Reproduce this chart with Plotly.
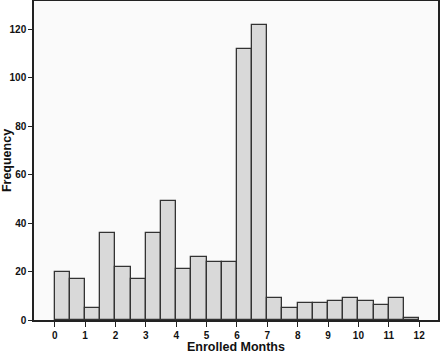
import plotly.graph_objects as go

bin_starts = [0, 0.5, 1, 1.5, 2, 2.5, 3, 3.5, 4, 4.5, 5, 5.5,
              6, 6.5, 7, 7.5, 8, 8.5, 9, 9.5, 10, 10.5, 11, 11.5]
counts = [20, 17, 5, 36, 22, 17, 36, 49, 21, 26, 24, 24,
          112, 122, 9, 5, 7, 7, 8, 9, 8, 6, 9, 1]
bin_width = 0.5
x_ticks = [0, 1, 2, 3, 4, 5, 6, 7, 8, 9, 10, 11, 12]
y_ticks = [0, 20, 40, 60, 80, 100, 120]

fig = go.Figure(go.Bar(
    x=[s + bin_width / 2 for s in bin_starts],
    y=counts,
    width=bin_width,
    marker=dict(color="#d9d9d9", line=dict(color="#333333", width=1.3)),
))

fig.update_layout(
    width=440, height=354,
    margin=dict(l=34, r=2, t=1, b=34),
    paper_bgcolor="white",
    plot_bgcolor="#fafafa",
    showlegend=False,
    bargap=0,
    font=dict(family="Liberation Sans, Arial, sans-serif", color="#111111"),
)
fig.update_xaxes(
    automargin=False,
    range=[-0.68, 12.62],
    tickvals=x_ticks,
    ticktext=[str(t) for t in x_ticks],
    ticks="outside", ticklen=5, tickwidth=1, tickcolor="#222222",
    tickfont=dict(size=10, family="Liberation Sans, Arial, sans-serif", weight="bold"),
    showgrid=False, zeroline=False,
    showline=True, linecolor="#222222", linewidth=1.5, mirror=True,
    title=dict(text="<b>Enrolled Months</b>", font=dict(size=12.5)),
)
fig.update_yaxes(
    automargin=False,
    range=[0, 131.7],
    tickvals=y_ticks,
    ticks="outside", ticklen=4, tickwidth=1, tickcolor="#222222",
    tickfont=dict(size=10, family="Liberation Sans, Arial, sans-serif", weight="bold"),
    showgrid=False, zeroline=False,
    showline=True, linecolor="#222222", linewidth=1.5, mirror=True,
    title=dict(text="<b>Frequency</b>", font=dict(size=12.5)),
)

fig.write_html("out.html")
